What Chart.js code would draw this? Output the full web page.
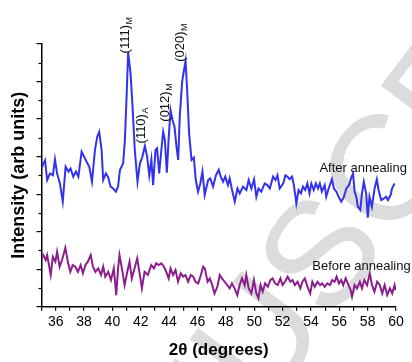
<!DOCTYPE html>
<html><head><meta charset="utf-8">
<script src="https://cdn.jsdelivr.net/npm/chart.js@4.4.1/dist/chart.umd.min.js"></script>
<style>html,body{margin:0;padding:0;background:#fff}#wrap{width:412px;height:362px}</style>
</head><body><div id="wrap"><canvas id="c" width="412" height="362"></canvas></div>
<script>
// 2θ positions (degrees) and intensities (arb. units)
const afterAngle = [35.0,35.12,35.25,35.4,35.6,35.8,35.95,36.1,36.3,36.5,36.7,36.9,37.05,37.24,37.43,37.6,37.83,38.0,38.2,38.37,38.56,38.77,38.93,39.07,39.24,39.35,39.54,39.7,39.87,40.05,40.25,40.4,40.53,40.76,40.88,41.0,41.11,41.28,41.42,41.58,41.77,41.94,42.1,42.29,42.45,42.6,42.75,42.87,43.04,43.15,43.3,43.45,43.58,43.7,43.84,43.96,44.1,44.24,44.38,44.52,44.64,44.75,44.92,45.03,45.16,45.27,45.41,45.58,45.74,45.88,46.04,46.2,46.35,46.51,46.75,46.9,47.1,47.3,47.5,47.64,47.8,47.96,48.15,48.27,48.44,48.63,48.82,48.98,49.21,49.45,49.61,49.8,49.99,50.15,50.3,50.5,50.74,50.93,51.1,51.33,51.5,51.64,51.8,52.05,52.2,52.35,52.5,52.67,52.8,52.97,53.13,53.3,53.44,53.6,53.75,53.9,54.03,54.2,54.35,54.5,54.63,54.77,54.97,55.08,55.25,55.48,55.62,55.8,55.95,56.14,56.33,56.5,56.69,56.85,56.97,57.08,57.2,57.31,57.48,57.6,57.73,57.9,58.01,58.13,58.3,58.49,58.65,58.77,58.96,59.15,59.31,59.43,59.62,59.72,59.9];
const afterIntensity = [7.37,7.6,7.8,6.75,7.1,7.0,7.85,7.1,6.57,5.6,7.46,7.2,7.37,6.93,7.2,6.93,8.26,8.0,7.7,7.46,6.66,8.35,9.06,9.32,8.35,6.75,7.1,6.9,6.4,6.3,6.13,6.4,7.28,7.64,8.88,11.19,13.55,12.43,10.66,8.35,6.66,7.64,7.95,8.56,8.0,7.0,7.84,6.48,8.35,8.44,7.1,8.35,9.32,8.88,7.14,8.88,10.48,9.95,9.59,8.53,7.82,10.12,11.99,12.52,13.1,11.55,9.24,7.82,7.95,6.75,6.13,6.57,7.2,5.95,6.75,6.84,6.4,7.0,7.3,6.93,6.66,6.93,6.48,6.84,6.22,5.6,6.3,6.04,6.4,6.22,6.75,6.3,6.79,5.86,6.3,6.13,6.57,6.48,6.3,6.93,6.75,7.0,6.3,6.57,7.0,6.93,6.79,6.93,6.48,5.5,6.22,6.04,6.4,6.22,6.57,6.04,6.57,6.22,6.57,6.3,6.57,6.13,6.48,5.86,6.3,6.8,6.3,6.13,5.86,5.6,5.86,6.3,6.48,6.9,7.1,6.13,5.86,5.33,5.15,6.04,6.66,6.0,4.75,5.86,5.33,6.3,6.79,6.22,5.68,5.77,5.86,5.68,5.95,6.3,6.57];
const beforeAngle = [35.0,35.13,35.3,35.4,35.65,35.8,35.98,36.1,36.28,36.45,36.68,36.88,37.03,37.2,37.38,37.57,37.76,37.92,38.1,38.27,38.47,38.63,38.8,39.0,39.2,39.35,39.5,39.7,39.9,40.1,40.27,40.4,40.5,40.67,40.86,41.05,41.21,41.37,41.56,41.75,41.92,42.08,42.27,42.5,42.74,42.93,43.09,43.26,43.45,43.64,43.8,43.97,44.1,44.28,44.45,44.63,44.82,44.99,45.15,45.34,45.53,45.7,45.86,46.05,46.24,46.4,46.52,46.71,46.87,47.04,47.2,47.4,47.57,47.73,47.92,48.1,48.27,48.43,48.62,48.81,48.97,49.14,49.33,49.44,49.61,49.8,49.98,50.15,50.3,50.45,50.6,50.77,50.96,51.14,51.3,51.47,51.66,51.85,52.0,52.17,52.36,52.55,52.7,52.87,53.06,53.25,53.4,53.57,53.76,53.95,54.1,54.27,54.46,54.65,54.8,54.97,55.16,55.35,55.5,55.67,55.81,55.98,56.14,56.28,56.45,56.6,56.8,56.9,57.08,57.25,57.45,57.6,57.77,57.96,58.15,58.31,58.48,58.67,58.86,59.03,59.2,59.38,59.57,59.73,59.9,59.97];
const beforeIntensity = [2.58,2.75,2.49,2.75,1.69,2.66,2.4,2.93,2.13,2.49,3.14,2.31,1.86,2.22,2.13,1.86,2.22,1.78,2.22,2.4,2.75,2.13,1.86,2.04,1.69,2.13,1.6,1.86,1.42,2.04,0.62,2.04,2.75,2.04,1.15,1.86,2.4,1.51,2.04,2.58,1.78,0.98,1.86,1.69,2.22,2.04,2.31,2.22,2.31,2.13,1.86,1.51,2.04,1.69,1.95,1.33,1.78,1.6,1.69,1.33,1.69,1.6,1.33,1.24,1.69,2.13,2.04,1.33,1.51,1.15,0.71,1.06,1.69,1.51,1.33,1.15,0.98,1.24,0.98,0.62,1.15,1.51,1.15,1.69,0.98,0.71,1.42,0.71,0.45,1.15,0.8,1.24,1.06,1.42,1.51,1.24,1.15,1.51,1.15,1.33,1.6,1.33,1.42,1.15,1.33,0.98,1.33,1.51,1.06,0.71,1.33,1.06,1.33,1.15,1.24,1.06,1.24,1.15,1.42,1.33,1.6,1.24,1.42,1.15,1.51,1.24,0.89,0.53,1.15,0.98,1.33,0.98,1.42,1.15,1.78,1.15,0.8,1.33,1.15,0.71,1.15,0.62,0.98,0.71,1.15,0.89];

const seriesNames = ['After annealing', 'Before annealing'];
const seriesLabelAngle = [54.6, 54.1];
const seriesLabelIntensity = [7.18, 1.95];

const peakLabels = ['(111)', '(110)', '(012)', '(020)'];
const peakPhases = ['M', 'A', 'M', 'M'];
const peakLabelAngle = [40.9, 42.08, 43.77, 44.82];
const peakLabelIntensity = [13.5, 8.7, 9.86, 13.05];

const xTickLabels = ['36','38','40','42','44','46','48','50','52','54','56','58','60'];
const xTitle = '2\u03b8 (degrees)';
const yTitle = 'Intensity (arb units)';
const watermark = 'ACCEPTED MANUSCRIPT';

const FONT = '"Liberation Sans", Arial, Helvetica, sans-serif';
Chart.defaults.font.family = FONT;
Chart.defaults.color = '#000';

const toPoints = (xs, ys) => xs.map((x, i) => ({x: x, y: ys[i]}));

const decor = {
  id: 'decor',
  beforeDraw(chart) {
    const ctx = chart.ctx;
    ctx.save();
    const size = 150;
    ctx.font = size + 'px ' + FONT;
    const ang = -53 * Math.PI / 180;
    const pre = ctx.measureText('ACCEPTED MAN').width;
    const wU = ctx.measureText('U').width;
    const lx = pre + wU / 2, ly = -0.716 * size / 2;
    const c = Math.cos(ang), s = Math.sin(ang);
    const ax = 255 - (lx * c - ly * s), ay = 335 - (lx * s + ly * c);
    ctx.translate(ax, ay);
    ctx.rotate(ang);
    ctx.fillStyle = '#dcdcdc';
    ctx.textBaseline = 'alphabetic';
    ctx.fillText(watermark, 0, 0);
    ctx.restore();
  },
  afterDraw(chart) {
    const ctx = chart.ctx;
    const xs = chart.scales.x, ys = chart.scales.y;
    ctx.save();
    // minor y ticks
    ctx.strokeStyle = '#000';
    ctx.lineWidth = 1.2;
    ys.ticks.forEach(t => {
      if (t.value % 2 !== 0) {
        const py = Math.round(ys.getPixelForValue(t.value)) + 0.5;
        ctx.beginPath();
        ctx.moveTo(xs.left - 3, py);
        ctx.lineTo(xs.left, py);
        ctx.stroke();
      }
    });
    // peak labels
    ctx.fillStyle = '#111';
    peakLabels.forEach((lab, i) => {
      const px = xs.getPixelForValue(peakLabelAngle[i]);
      const py = ys.getPixelForValue(peakLabelIntensity[i]);
      ctx.save();
      ctx.translate(px, py);
      ctx.rotate(-Math.PI / 2);
      ctx.textAlign = 'left';
      ctx.textBaseline = 'middle';
      ctx.font = '13px ' + FONT;
      ctx.fillText(lab, 0, 0);
      const w = ctx.measureText(lab).width;
      ctx.font = '9px ' + FONT;
      ctx.fillText(peakPhases[i], w + 0.5, 4);
      ctx.restore();
    });
    // series labels
    ctx.font = '13px ' + FONT;
    ctx.textAlign = 'left';
    ctx.textBaseline = 'alphabetic';
    seriesNames.forEach((n, i) => {
      ctx.fillText(n, xs.getPixelForValue(seriesLabelAngle[i]), ys.getPixelForValue(seriesLabelIntensity[i]));
    });
    ctx.restore();
  }
};

new Chart(document.getElementById('c'), {
  type: 'line',
  data: {
    datasets: [
      {label: seriesNames[0], data: toPoints(afterAngle, afterIntensity), borderColor: '#3232ec', borderWidth: 2, pointRadius: 0, tension: 0, fill: false},
      {label: seriesNames[1], data: toPoints(beforeAngle, beforeIntensity), borderColor: '#8a1f8c', borderWidth: 2, pointRadius: 0, tension: 0, fill: false}
    ]
  },
  options: {
    responsive: false,
    animation: false,
    devicePixelRatio: 1,
    layout: {padding: {left: 0, top: 44, right: 16, bottom: 0}},
    plugins: {legend: {display: false}, tooltip: {enabled: false}},
    scales: {
      x: {
        type: 'linear', min: 35, max: 60,
        ticks: {
          stepSize: 1, autoSkip: false, maxRotation: 0, minRotation: 0, padding: 3,
          font: {size: 14}, color: '#000',
          callback: v => xTickLabels.includes(String(v)) ? String(v) : ''
        },
        grid: {drawOnChartArea: false, drawTicks: true, tickLength: 4, color: '#000', lineWidth: 1.2},
        border: {display: true, color: '#000', width: 1.5},
        title: {display: true, text: xTitle, font: {size: 17, weight: 'bold'}, color: '#000', padding: {top: 0, bottom: 1}},
        afterFit: s => { s.height = 55.3; }
      },
      y: {
        type: 'linear', min: 0, max: 14,
        ticks: {stepSize: 1, display: false},
        grid: {drawOnChartArea: false, drawTicks: true, tickLength: 5, lineWidth: 1.2,
               tickColor: c => (c.tick && c.tick.value % 2 === 0) ? '#000' : 'rgba(0,0,0,0)'},
        border: {display: true, color: '#000', width: 1.5},
        title: {display: true, text: yTitle, font: {size: 18, weight: 'bold'}, color: '#000', padding: {top: 8, bottom: 0}},
        afterFit: s => { s.width = 41.5; }
      }
    }
  },
  plugins: [decor]
});
</script>
</body></html>
